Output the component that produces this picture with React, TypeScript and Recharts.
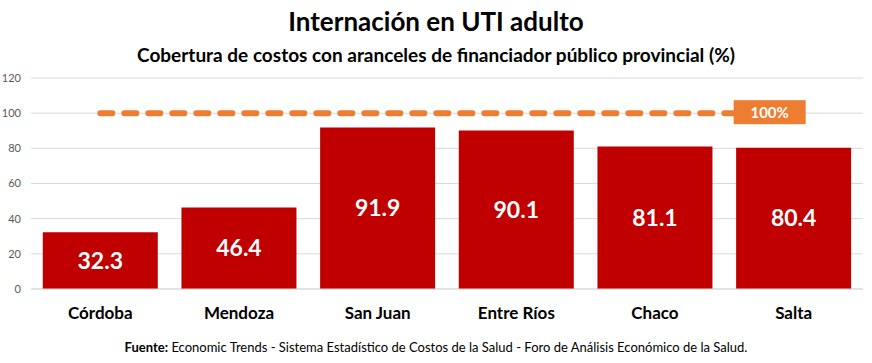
import React from 'react';
import { ComposedChart, Bar, Line, XAxis, YAxis, CartesianGrid, LabelList } from 'recharts';

const provincias = ['Córdoba', 'Mendoza', 'San Juan', 'Entre Ríos', 'Chaco', 'Salta'];
const cobertura = [32.3, 46.4, 91.9, 90.1, 81.1, 80.4];
const referencia = [100, 100, 100, 100, 100, 100];
const yTicks = [0, 20, 40, 60, 80, 100, 120];

const data = provincias.map((name, i) => ({ name, value: cobertura[i], target: referencia[i] }));

const FONT = 'Lato, "Noto Sans", sans-serif';

const TargetLabel = (props: any) => {
  const { x, y, index } = props;
  if (index !== data.length - 1) return null;
  return (
    <g>
      <rect x={x - 60} y={y - 13} width={72} height={24} fill="#ED7D31" />
      <text x={x - 24} y={y + 5} textAnchor="middle" fill="#fff" fontSize={15} fontWeight={700} fontFamily={FONT}>
        100%
      </text>
    </g>
  );
};

export default function App() {
  return (
    <div style={{ position: 'absolute', left: 0, top: 0, width: 872, height: 363, background: '#fff', fontFamily: FONT }}>
      <div style={{ position: 'absolute', top: 5, left: 0, width: 872, textAlign: 'center', fontSize: 26, fontWeight: 700, color: '#000' }}>
        Internación en UTI adulto
      </div>
      <div style={{ position: 'absolute', top: 43, left: 0, width: 872, textAlign: 'center', fontSize: 19, fontWeight: 700, color: '#000' }}>
        Cobertura de costos con aranceles de financiador público provincial (%)
      </div>
      <ComposedChart width={872} height={363} data={data} margin={{ top: 78, right: 9, bottom: 44, left: 0 }} barCategoryGap="8.5%">
        <CartesianGrid vertical={false} stroke="#d9d9d9" />
        <XAxis
          dataKey="name"
          height={30}
          axisLine={{ stroke: '#d9d9d9' }}
          tickLine={false}
          tick={{ fill: '#000', fontSize: 17, fontWeight: 700, fontFamily: FONT }}
          tickMargin={12}
        />
        <YAxis
          width={31}
          domain={[0, 120]}
          ticks={yTicks}
          axisLine={false}
          tickLine={false}
          tick={{ fill: '#595959', fontSize: 11, fontFamily: FONT }}
          tickMargin={4}
        />
        <Bar dataKey="value" fill="#C00000" isAnimationActive={false}>
          <LabelList dataKey="value" position="center" fill="#fff" fontSize={23} fontWeight={700} fontFamily={FONT} formatter={(v: any) => Number(v).toFixed(1)} />
        </Bar>
        <Line
          dataKey="target"
          stroke="#ED7D31"
          strokeWidth={6}
          strokeDasharray="12 12"
          strokeLinecap="round"
          dot={false}
          activeDot={false}
          isAnimationActive={false}
        >
          <LabelList dataKey="target" content={TargetLabel} />
        </Line>
      </ComposedChart>
      <div style={{ position: 'absolute', top: 339, left: 0, width: 872, textAlign: 'center', fontSize: 13, color: '#000' }}>
        <b>Fuente:</b> Economic Trends - Sistema Estadístico de Costos de la Salud - Foro de Análisis Económico de la Salud.
      </div>
    </div>
  );
}
